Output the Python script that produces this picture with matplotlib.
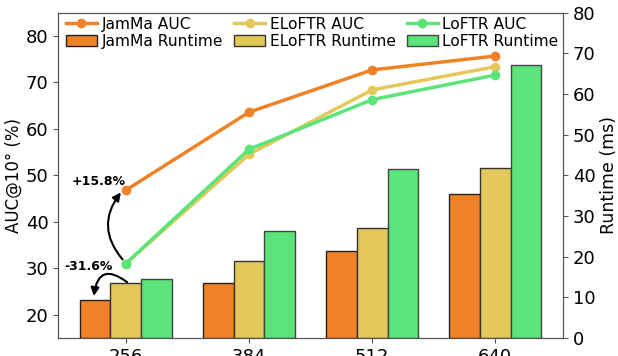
import matplotlib.pyplot as plt
import numpy as np

# Daten
resolutions = ["256", "384", "512", "640"]
jamma_auc = [46.8, 63.6, 72.7, 75.7]
eloftr_auc = [31.0, 54.5, 68.4, 73.4]
loftr_auc = [31.0, 55.6, 66.3, 71.6]
jamma_rt = [9.3, 13.4, 21.3, 35.5]
eloftr_rt = [13.6, 19.0, 27.1, 41.7]
loftr_rt = [14.6, 26.2, 41.5, 67.1]

C_JAMMA = "#ef8227"
C_ELOFTR = "#e5c85a"
C_LOFTR = "#5ae47a"
SPINE = "#555555"

x = np.arange(len(resolutions))
w = 0.25

fig = plt.figure(figsize=(6.18, 3.56), dpi=100)
ax = fig.add_axes([0.094, 0.051, 0.817, 0.913])
ax2 = ax.twinx()

# Runtime als Balken (rechte Achse)
b1 = ax2.bar(x - w, jamma_rt, w, color=C_JAMMA, edgecolor="#222222", linewidth=1, label="JamMa Runtime")
b2 = ax2.bar(x, eloftr_rt, w, color=C_ELOFTR, edgecolor="#333333", linewidth=1, label="ELoFTR Runtime")
b3 = ax2.bar(x + w, loftr_rt, w, color=C_LOFTR, edgecolor="#444444", linewidth=1, label="LoFTR Runtime")

# AUC als Linien (linke Achse, vor den Balken)
ax.set_zorder(ax2.get_zorder() + 1)
ax.patch.set_visible(False)
l1, = ax.plot(x, jamma_auc, "-o", color=C_JAMMA, lw=2.5, ms=6, label="JamMa AUC")
l2, = ax.plot(x, eloftr_auc, "-o", color=C_ELOFTR, lw=2.5, ms=6, label="ELoFTR AUC")
l3, = ax.plot(x, loftr_auc, "-o", color=C_LOFTR, lw=2.5, ms=6, label="LoFTR AUC")

ax.set_xlim(-0.55, 3.55)
ax.set_ylim(15, 85)
ax2.set_ylim(0, 80)
ax.set_xticks(x)
ax.set_xticklabels(resolutions)
ax.set_yticks([20, 30, 40, 50, 60, 70, 80])
ax2.set_yticks(range(0, 81, 10))
ax.tick_params(labelsize=13, color=SPINE)
ax2.tick_params(labelsize=13, color=SPINE)
ax.set_ylabel("AUC@10° (%)", fontsize=12, labelpad=2)
ax2.set_ylabel("Runtime (ms)", fontsize=12.5, labelpad=3)
for a in (ax, ax2):
    for s in a.spines.values():
        s.set_color(SPINE)

# Annotationen
ax.annotate("", xy=(x[0] - 0.04, 46.3), xytext=(x[0] - 0.027, 31.9),
            arrowprops=dict(arrowstyle="-|>", color="black", lw=1.5, mutation_scale=12,
                            shrinkA=0, shrinkB=0, connectionstyle="arc3,rad=-0.4"))
ax.text(x[0] - 0.22, 48.7, "+15.8%", fontsize=9, fontweight="bold", ha="center", va="center")
ax2.annotate("", xy=(x[0] - w - 0.01, 10.3), xytext=(x[0] + 0.01, 13.7),
             arrowprops=dict(arrowstyle="-|>", color="black", lw=1.5, mutation_scale=12,
                             shrinkA=0, shrinkB=0, connectionstyle="arc3,rad=0.85"))
ax.text(x[0] - 0.30, 30.45, "-31.6%", fontsize=9, fontweight="bold", ha="center", va="center")

handles = [l1, b1, l2, b2, l3, b3]
ax.legend(handles, [h.get_label() for h in handles], ncol=3, loc="upper left",
          bbox_to_anchor=(0.0, 1.012), frameon=False, fontsize=11.2, borderaxespad=0.1,
          columnspacing=0.7, handletextpad=0.3, labelspacing=0.12, handlelength=2.0)

fig.savefig("out.png", dpi=100)
